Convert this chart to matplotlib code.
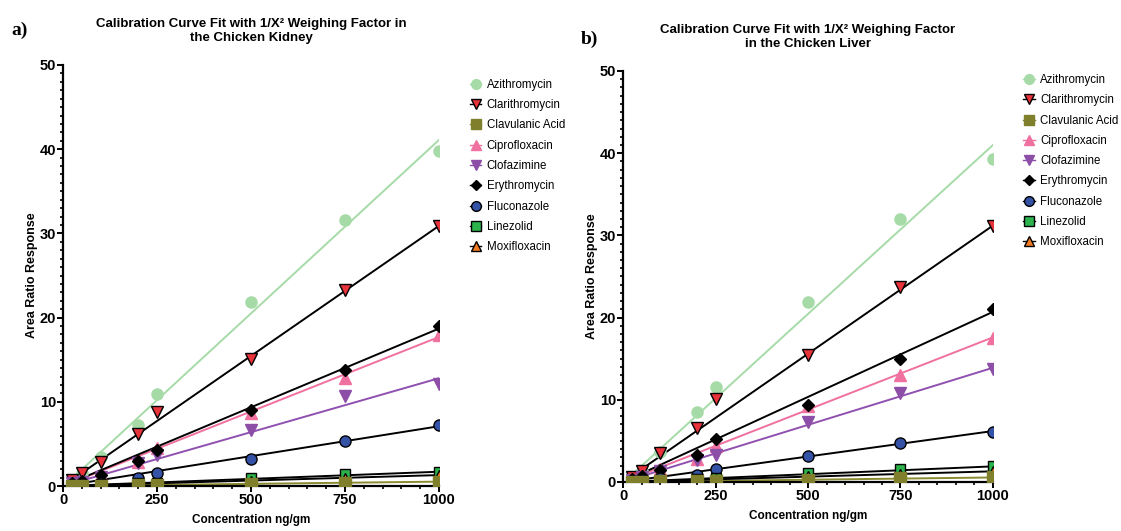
import numpy as np
import matplotlib
matplotlib.use("Agg")
import matplotlib.pyplot as plt
from matplotlib.lines import Line2D
from matplotlib.ticker import MultipleLocator

# --- data ---
conc = [25, 50, 100, 200, 250, 500, 750, 1000]

drugs = ["Azithromycin", "Clarithromycin", "Clavulanic Acid", "Ciprofloxacin",
         "Clofazimine", "Erythromycin", "Fluconazole", "Linezolid", "Moxifloxacin"]

kidney_azi = [0.5, 1.5, 3.5, 7.2, 10.9, 21.8, 31.6, 39.8]
kidney_cla = [0.7, 1.5, 2.9, 6.2, 8.8, 15.1, 23.3, 30.9]
kidney_clav = [0.01, 0.03, 0.05, 0.1, 0.13, 0.25, 0.4, 0.5]
kidney_cip = [0.3, 0.6, 1.3, 2.8, 4.5, 8.7, 12.8, 17.9]
kidney_clof = [0.3, 0.5, 1.1, 2.7, 3.7, 6.6, 10.7, 12.1]
kidney_ery = [0.3, 0.6, 1.3, 3.0, 4.3, 9.0, 13.75, 19.0]
kidney_flu = [0.1, 0.2, 0.4, 0.9, 1.6, 3.2, 5.3, 7.2]
kidney_lin = [0.05, 0.1, 0.2, 0.35, 0.4, 0.9, 1.4, 1.7]
kidney_mox = [0.03, 0.07, 0.13, 0.27, 0.33, 0.65, 1.0, 1.3]
kidney_slope = [0.0412, 0.0309, 0.00052, 0.0177, 0.0128, 0.0187, 0.0071, 0.0017, 0.0013]
kidney_icpt = [-0.1, 0.0, 0.0, 0.0, 0.0, 0.0, 0.0, 0.0, 0.0]

liver_azi = [0.65, 1.3, 3.6, 8.5, 11.5, 21.9, 32.0, 39.3]
liver_cla = [0.6, 1.3, 3.5, 6.6, 10.1, 15.5, 23.7, 31.2]
liver_clav = [0.01, 0.03, 0.06, 0.11, 0.14, 0.3, 0.45, 0.55]
liver_cip = [0.35, 0.7, 1.6, 2.8, 4.4, 9.2, 13.0, 17.5]
liver_clof = [0.3, 0.6, 1.3, 2.7, 3.3, 7.3, 10.8, 13.75]
liver_ery = [0.35, 0.7, 1.5, 3.3, 5.2, 9.4, 15.0, 21.0]
liver_flu = [0.1, 0.2, 0.45, 0.9, 1.6, 3.2, 4.8, 6.05]
liver_lin = [0.05, 0.1, 0.2, 0.4, 0.5, 1.1, 1.6, 1.9]
liver_mox = [0.03, 0.07, 0.13, 0.27, 0.33, 0.7, 1.0, 1.3]
liver_slope = [0.0411, 0.0312, 0.00055, 0.0176, 0.0139, 0.0207, 0.0062, 0.0019, 0.0013]
liver_icpt = [-0.1, 0.0, 0.0, 0.0, 0.0, 0.0, 0.0, 0.0, 0.0]

# --- styles ---
markers = ["o", "v", "s", "^", "v", "D", "o", "s", "^"]
face = ["#a6dba8", "#e8333b", "#7f7f2c", "#f0709f", "#8c4ea6", "#000000", "#3553a6", "#2cb34b", "#f07a22"]
edge = ["#a6dba8", "#000000", "#7f7f2c", "#f0709f", "#8c4ea6", "#000000", "#000000", "#000000", "#000000"]
linec = ["#a6dba8", "#000000", "#8a8a30", "#f0709f", "#9050b0", "#000000", "#000000", "#000000", "#000000"]
msize = [8, 8, 8, 8, 8, 6, 8, 7.5, 7.5]

font = "Liberation Sans"

fig = plt.figure(figsize=(11.21, 5.31), dpi=100)
ax1 = fig.add_axes([0.0562, 0.0847, 0.3354, 0.7929])
ax2 = fig.add_axes([0.5558, 0.0923, 0.3300, 0.7740])


def panel(ax, series, slopes, icpts, title, leg_y, title_pad):
    x = np.array(conc, dtype=float)
    for i, ys in enumerate(series):
        ax.plot(x, slopes[i] * x + icpts[i], color=linec[i], lw=1.4, zorder=2)
    for i, ys in enumerate(series):
        z = 5 if i == 2 else 3
        ax.plot(x, ys, linestyle="none", marker=markers[i], ms=msize[i],
                mfc=face[i], mec=edge[i], mew=1.0, zorder=z)
    ax.set_xlim(0, 1000)
    ax.set_ylim(0, 50)
    ax.xaxis.set_major_locator(MultipleLocator(250))
    ax.xaxis.set_minor_locator(MultipleLocator(50))
    ax.yaxis.set_major_locator(MultipleLocator(10))
    ax.yaxis.set_minor_locator(MultipleLocator(1))
    for s in ["top", "right"]:
        ax.spines[s].set_visible(False)
    for s in ["left", "bottom"]:
        ax.spines[s].set_linewidth(1.6)
    ax.tick_params(which="major", direction="out", length=4, width=1.4, pad=1)
    ax.tick_params(which="minor", direction="out", length=2.5, width=1.2)
    for lab in ax.get_xticklabels() + ax.get_yticklabels():
        lab.set_fontfamily(font)
        lab.set_fontweight("bold")
        lab.set_fontsize(10.5)
    ax.set_xlabel("Concentration ng/gm", fontfamily=font, fontweight="bold",
                  fontsize=8.5, labelpad=5)
    ax.set_ylabel("Area Ratio Response", fontfamily=font,
                  fontweight="bold", fontsize=9, labelpad=1)
    ax.set_title(title, fontfamily=font, fontweight="bold", fontsize=9.5,
                 pad=title_pad, linespacing=1.3)
    handles = [Line2D([], [], color=edge[i], lw=1.0, marker=markers[i],
                      ms=msize[i] - 1, mfc=face[i], mec=edge[i])
               for i in range(len(drugs))]
    ax.legend(handles, drugs, loc="upper left", bbox_to_anchor=(1.07, leg_y),
              frameon=False, handlelength=1.0, handletextpad=0.45,
              labelspacing=0.72, borderaxespad=0,
              prop={"family": font, "size": 8.3})


panel(ax1, [kidney_azi, kidney_cla, kidney_clav, kidney_cip, kidney_clof,
            kidney_ery, kidney_flu, kidney_lin, kidney_mox],
      kidney_slope, kidney_icpt,
      "Calibration Curve Fit with 1/X² Weighing Factor in\nthe Chicken Kidney",
      0.978, 17)
panel(ax2, [liver_azi, liver_cla, liver_clav, liver_cip, liver_clof,
            liver_ery, liver_flu, liver_lin, liver_mox],
      liver_slope, liver_icpt,
      "Calibration Curve Fit with 1/X² Weighing Factor\nin the Chicken Liver",
      1.004, 17)

fig.text(0.010, 0.935, "a)", fontfamily="Liberation Serif", fontweight="bold", fontsize=14)
fig.text(0.518, 0.918, "b)", fontfamily="Liberation Serif", fontweight="bold", fontsize=14)

fig.savefig("out.png", dpi=100)
